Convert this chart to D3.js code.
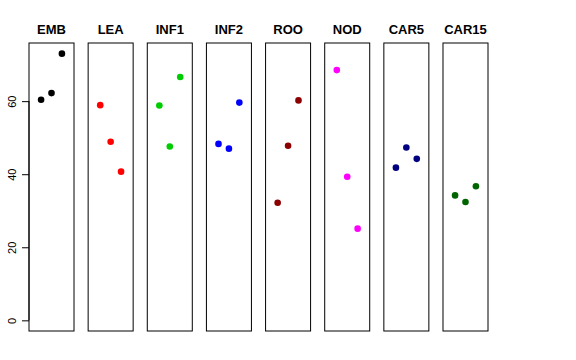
<!DOCTYPE html>
<html>
<head>
<meta charset="utf-8">
<script src="https://cdn.jsdelivr.net/npm/d3@7"></script>
<style>
body { margin: 0; background: #fff; }
text { font-family: "Liberation Sans", Arial, sans-serif; }
</style>
</head>
<body>
<script>
var panels = ['EMB', 'LEA', 'INF1', 'INF2', 'ROO', 'NOD', 'CAR5', 'CAR15'];
var panelColors = ['#000000', '#ff0000', '#00cd00', '#0000ff', '#8b0000', '#ff00ff', '#000080', '#006400'];
var positions = [1, 2, 3];
var values = [
	[60.4, 62.2, 73.0],
	[58.9, 48.9, 40.7],
	[58.8, 47.6, 66.6],
	[48.3, 47.0, 59.6],
	[32.2, 47.8, 60.2],
	[68.5, 39.3, 25.1],
	[41.8, 47.3, 44.2],
	[34.2, 32.4, 36.7]
];
var yTicks = [0, 20, 40, 60];

var width = 576,
	height = 360;
var plot = {left: 29, right: 488, top: 43, bottom: 331};

var svg = d3.select('body')
	.append('svg')
	.attr('width', width)
	.attr('height', height);

var panelScale = d3.scaleBand()
	.domain(panels)
	.range([plot.left, plot.right])
	.paddingInner(0.239)
	.paddingOuter(0);

// R style 4% expansion on both axes
var yMin = 0, yMax = 73;
var yPad = (yMax - yMin) * 0.04;
var yScale = d3.scaleLinear()
	.domain([yMin - yPad, yMax + yPad])
	.range([plot.bottom, plot.top]);

var xScale = d3.scaleLinear()
	.domain([0 - 0.16, 4 + 0.16])
	.range([0, panelScale.bandwidth()]);

var yAxis = d3.axisLeft(yScale)
	.tickValues(yTicks)
	.tickSize(7)
	.tickPadding(4);

var axisG = svg.append('g')
	.attr('transform', `translate(${plot.left}, 0)`)
	.call(yAxis);
axisG.select('.domain').remove();
axisG.append('line')
	.attr('y1', yScale(0))
	.attr('y2', yScale(60))
	.attr('stroke', '#000');
axisG.selectAll('.tick line').attr('stroke', '#000');
axisG.selectAll('.tick text')
	.attr('font-size', 11)
	.attr('fill', '#000')
	.attr('transform', 'rotate(-90)')
	.attr('x', 0)
	.attr('y', -13)
	.attr('dy', 0)
	.attr('text-anchor', 'middle')
	.attr('font-family', '"Liberation Sans", Arial, sans-serif');

var panel = svg.selectAll('.panel')
	.data(panels)
	.enter()
	.append('g')
	.attr('class', 'panel')
	.attr('transform', d => `translate(${panelScale(d)}, 0)`);

panel.append('rect')
	.attr('x', 0)
	.attr('y', plot.top)
	.attr('width', panelScale.bandwidth())
	.attr('height', plot.bottom - plot.top)
	.attr('fill', 'none')
	.attr('stroke', '#000')
	.attr('stroke-width', 1);

panel.append('text')
	.text(d => d)
	.attr('x', panelScale.bandwidth() / 2)
	.attr('y', 34)
	.attr('text-anchor', 'middle')
	.attr('font-weight', 'bold')
	.attr('font-size', 13);

panel.each(function(d, i) {
	d3.select(this).selectAll('circle')
		.data(values[i])
		.enter()
		.append('circle')
		.attr('cx', (v, j) => xScale(positions[j]))
		.attr('cy', v => yScale(v))
		.attr('r', 3.3)
		.attr('fill', panelColors[i]);
});
</script>
</body>
</html>
